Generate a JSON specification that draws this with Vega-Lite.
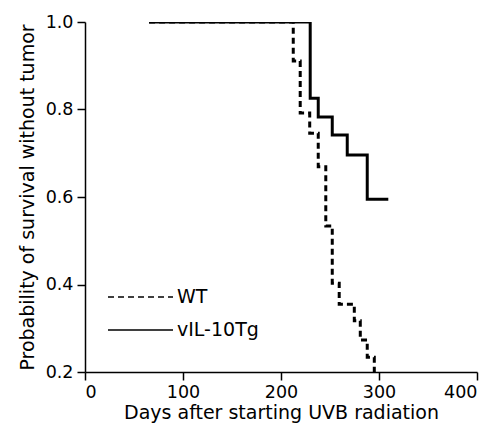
{
  "$schema": "https://vega.github.io/schema/vega-lite/v6.json",
  "width": 392,
  "height": 350,
  "autosize": {"type": "none"},
  "padding": {"left": 85, "top": 22, "right": 19, "bottom": 59},
  "background": "white",
  "config": {
    "view": {"stroke": null},
    "font": "DejaVu Sans",
    "axis": {
      "grid": false,
      "domainColor": "black",
      "domainWidth": 1.5,
      "tickColor": "black",
      "tickWidth": 1.5,
      "tickSize": 8,
      "labelColor": "black",
      "titleColor": "black",
      "labelFont": "DejaVu Sans",
      "titleFont": "DejaVu Sans",
      "labelFontSize": 17.5,
      "titleFontSize": 19,
      "titleFontWeight": "normal"
    }
  },
  "data": {
    "values": [
      {"day": 65.4, "surv": 1.0, "group": "WT"},
      {"day": 212.5, "surv": 0.911, "group": "WT"},
      {"day": 219.6, "surv": 0.792, "group": "WT"},
      {"day": 229.3, "surv": 0.746, "group": "WT"},
      {"day": 238, "surv": 0.669, "group": "WT"},
      {"day": 245.7, "surv": 0.534, "group": "WT"},
      {"day": 252.3, "surv": 0.403, "group": "WT"},
      {"day": 259.4, "surv": 0.355, "group": "WT"},
      {"day": 274.8, "surv": 0.317, "group": "WT"},
      {"day": 280.9, "surv": 0.273, "group": "WT"},
      {"day": 288, "surv": 0.234, "group": "WT"},
      {"day": 295.2, "surv": 0.2, "group": "WT"},
      {"day": 65.4, "surv": 1.0, "group": "vIL-10Tg"},
      {"day": 229.8, "surv": 0.826, "group": "vIL-10Tg"},
      {"day": 238, "surv": 0.783, "group": "vIL-10Tg"},
      {"day": 252.3, "surv": 0.742, "group": "vIL-10Tg"},
      {"day": 267.6, "surv": 0.696, "group": "vIL-10Tg"},
      {"day": 288, "surv": 0.595, "group": "vIL-10Tg"},
      {"day": 309.5, "surv": 0.595, "group": "vIL-10Tg"}
    ]
  },
  "mark": {"type": "line", "interpolate": "step-after", "color": "black", "strokeWidth": 3, "clip": true},
  "encoding": {
    "x": {
      "field": "day",
      "type": "quantitative",
      "title": "Days after starting UVB radiation",
      "scale": {"domain": [0, 400], "nice": false},
      "axis": {"values": [0, 100, 200, 300, 400], "labelPadding": 3, "titlePadding": 3}
    },
    "y": {
      "field": "surv",
      "type": "quantitative",
      "title": "Probability of survival without tumor",
      "scale": {"domain": [0.2, 1.0], "nice": false, "zero": false},
      "axis": {"values": [0.2, 0.4, 0.6, 0.8, 1.0], "format": ".1f", "labelPadding": 4, "titlePadding": 8}
    },
    "strokeDash": {
      "field": "group",
      "type": "nominal",
      "scale": {"domain": ["WT", "vIL-10Tg"], "range": [[6, 4], [1, 0]]},
      "legend": {
        "title": null,
        "orient": "none",
        "legendX": 22,
        "legendY": 265,
        "padding": 0,
        "symbolType": "stroke",
        "symbolSize": 4225,
        "symbolStrokeColor": "black",
        "symbolStrokeWidth": 1.5,
        "symbolDash": [6.5, 4.3],
        "clipHeight": 20,
        "rowPadding": 13,
        "labelOffset": 3,
        "labelFontSize": 19,
        "labelColor": "black",
        "labelFont": "DejaVu Sans"
      }
    }
  }
}
